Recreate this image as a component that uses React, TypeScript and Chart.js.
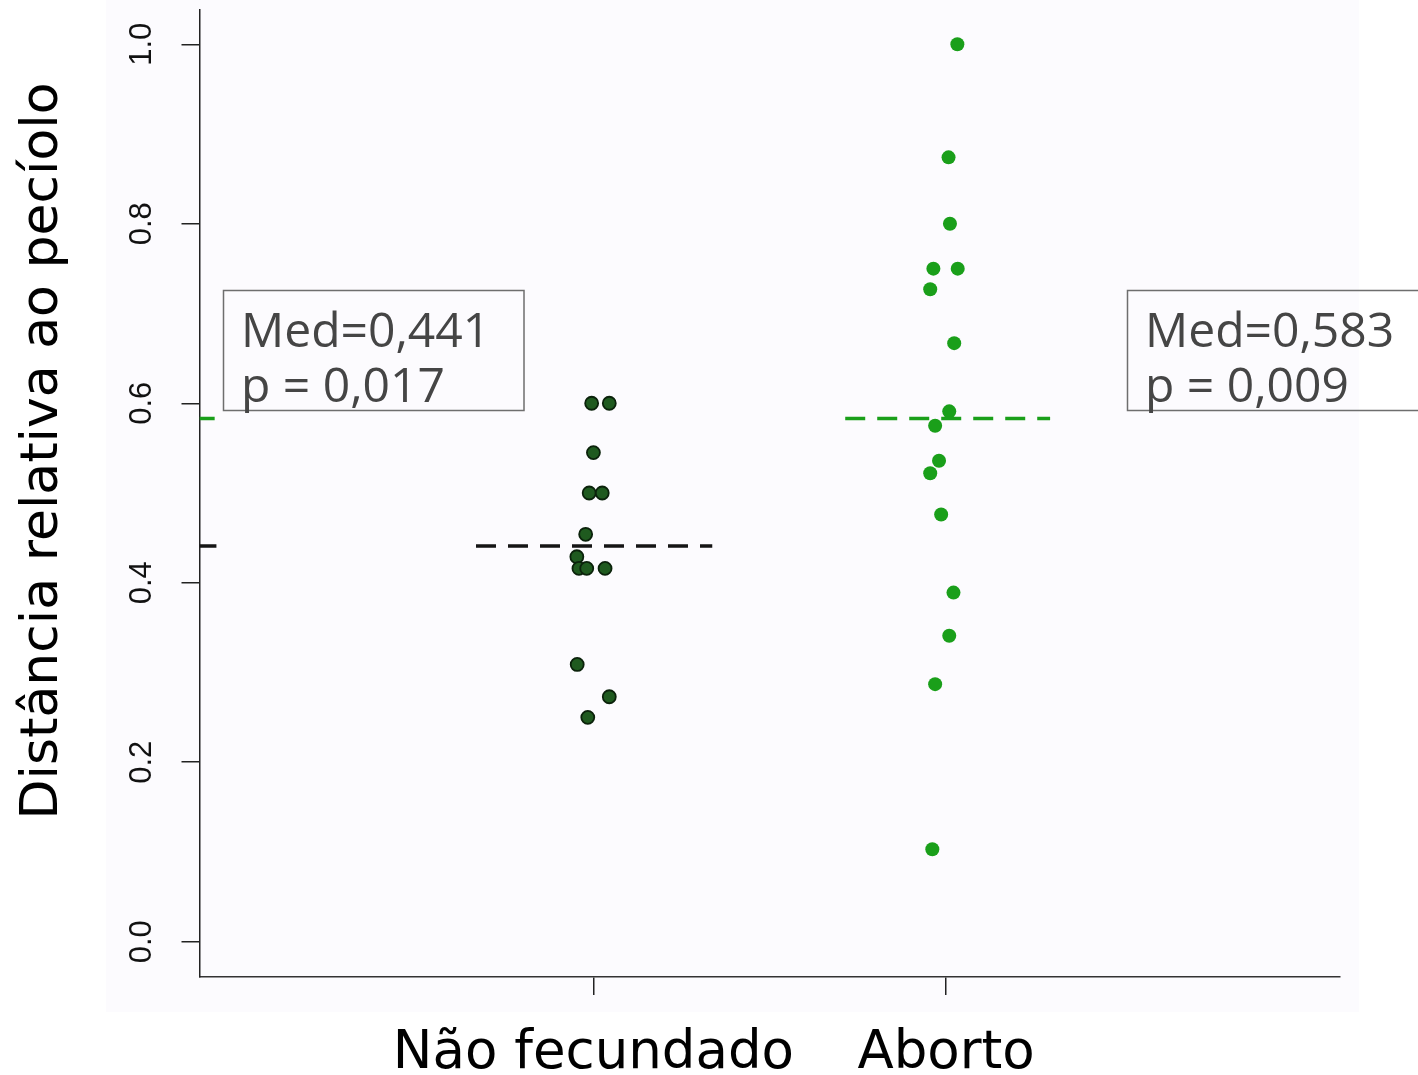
import React, { useEffect, useRef } from "react";
import { Chart, registerables } from "chart.js";

Chart.register(...registerables);

// ---- data ----
const CATEGORIES = ["Não fecundado", "Aborto"];
const CATEGORY_X = [1, 2];
const Y_TICKS = [0, 0.2, 0.4, 0.6, 0.8, 1.0];
const Y_TITLE = "Distância relativa ao pecíolo";

// "Não fecundado" (jittered x around 1)
const NF_X = [0.995, 1.045, 1.0, 0.988, 1.025, 0.978, 0.953, 0.959, 0.981, 1.033, 0.954, 1.045, 0.984];
const NF_Y = [0.6, 0.6, 0.545, 0.5, 0.5, 0.454, 0.429, 0.416, 0.416, 0.416, 0.309, 0.273, 0.25];

// "Aborto" (jittered x around 2)
const AB_X = [2.032, 2.007, 2.011, 1.964, 2.033, 1.955, 2.023, 2.009, 1.969, 1.98, 1.955, 1.986, 2.021, 2.009, 1.969, 1.961];
const AB_Y = [1.0, 0.874, 0.8, 0.75, 0.75, 0.727, 0.667, 0.591, 0.575, 0.536, 0.522, 0.476, 0.389, 0.341, 0.287, 0.103];

const MEDIANS = [0.441, 0.583];
const NF_MEDIAN_X = [0.667, 1.337];
const AB_MEDIAN_X = [1.714, 2.295];
const NF_EDGE_X = [-0.117, -0.069];
const AB_EDGE_X = [-0.117, -0.074];

const BOX_LINE1 = ["Med=0,441", "Med=0,583"];
const BOX_LINE2 = ["p = 0,017", "p = 0,009"];

const X_MIN = -0.117;
const X_MAX = 3.117;
const Y_MIN = -0.0393;
const Y_MAX = 1.0382;

const GREEN = "#1a9f1a";
const DARK_FILL = "#1f5a1f";
const DARK_BORDER = "#0b220b";

const W = 1418;
const H = 1075;

const backgroundPlugin = {
  id: "bgTint",
  beforeDraw(chart: any) {
    const ctx = chart.ctx;
    ctx.save();
    ctx.fillStyle = "#ffffff";
    ctx.fillRect(0, 0, chart.width, chart.height);
    ctx.fillStyle = "#fcfbfe";
    ctx.fillRect(106, 0, 1359 - 106, 1012);
    ctx.restore();
  },
};

const overlayPlugin = {
  id: "overlay",
  afterDraw(chart: any) {
    const ctx = chart.ctx;
    ctx.save();
    // y-axis title
    ctx.translate(57, 451);
    ctx.rotate(-Math.PI / 2);
    ctx.fillStyle = "#000";
    ctx.font = "52px 'DejaVu Sans'";
    ctx.textAlign = "center";
    ctx.textBaseline = "alphabetic";
    ctx.fillText(Y_TITLE, 0, 0);
    ctx.restore();

    // annotation boxes
    const boxes = [
      { x: 223.5, w: 300.5, tx: 241 },
      { x: 1127.5, w: 320, tx: 1145 },
    ];
    boxes.forEach((b, i) => {
      ctx.save();
      ctx.strokeStyle = "#6e6e6e";
      ctx.lineWidth = 1.5;
      ctx.strokeRect(b.x, 290.5, b.w, 120);
      ctx.fillStyle = "#454545";
      ctx.font = "48px 'Open Sans'";
      ctx.textAlign = "left";
      ctx.textBaseline = "alphabetic";
      ctx.fillText(BOX_LINE1[i], b.tx, 347);
      ctx.fillText(BOX_LINE2[i], b.tx, 402);
      ctx.restore();
    });
  },
};

export default function App() {
  const ref = useRef<HTMLCanvasElement | null>(null);

  useEffect(() => {
    if (!ref.current) return;
    const nf = NF_X.map((x, i) => ({ x, y: NF_Y[i] }));
    const ab = AB_X.map((x, i) => ({ x, y: AB_Y[i] }));
    const nfMed = NF_MEDIAN_X.map((x) => ({ x, y: MEDIANS[0] }));
    const abMed = AB_MEDIAN_X.map((x) => ({ x, y: MEDIANS[1] }));
    const nfEdge = NF_EDGE_X.map((x) => ({ x, y: MEDIANS[0] }));
    const abEdge = AB_EDGE_X.map((x) => ({ x, y: MEDIANS[1] }));

    const chart = new Chart(ref.current, {
      type: "scatter",
      data: {
        datasets: [
          {
            label: "Não fecundado mediana",
            data: nfMed,
            showLine: true,
            borderColor: "#151515",
            borderWidth: 3.5,
            borderDash: [20, 12],
            pointRadius: 0,
          },
          {
            label: "Aborto mediana",
            data: abMed,
            showLine: true,
            borderColor: GREEN,
            borderWidth: 3.5,
            borderDash: [20, 12],
            pointRadius: 0,
          },
          {
            label: "nf edge",
            data: nfEdge,
            showLine: true,
            borderColor: "#151515",
            borderWidth: 3.5,
            pointRadius: 0,
          },
          {
            label: "ab edge",
            data: abEdge,
            showLine: true,
            borderColor: GREEN,
            borderWidth: 3.5,
            pointRadius: 0,
          },
          {
            label: CATEGORIES[0],
            data: nf,
            backgroundColor: DARK_FILL,
            borderColor: DARK_BORDER,
            borderWidth: 1.8,
            pointRadius: 6.5,
          },
          {
            label: CATEGORIES[1],
            data: ab,
            backgroundColor: GREEN,
            borderColor: GREEN,
            borderWidth: 0,
            pointRadius: 7,
          },
        ],
      },
      options: {
        responsive: false,
        animation: false,
        devicePixelRatio: 1,
        layout: { padding: { left: 0, right: W - 1340, top: 10, bottom: 0 } },
        plugins: {
          legend: { display: false },
          tooltip: { enabled: false },
        },
        scales: {
          x: {
            type: "linear",
            min: X_MIN,
            max: X_MAX,
            afterBuildTicks: (scale: any) => {
              scale.ticks = CATEGORY_X.map((v) => ({ value: v }));
            },
            afterFit: (scale: any) => {
              scale.height = H - 977;
              scale.paddingLeft = 0;
              scale.paddingRight = 0;
            },
            ticks: {
              autoSkip: false,
              maxRotation: 0,
              minRotation: 0,
              padding: 27,
              color: "#000",
              font: { family: "'DejaVu Sans'", size: 53 },
              callback: (v: any) => {
                const idx = CATEGORY_X.indexOf(Number(v));
                return idx >= 0 ? CATEGORIES[idx] : "";
              },
            },
            grid: {
              drawOnChartArea: false,
              drawTicks: true,
              tickLength: 18,
              tickColor: "#222",
              lineWidth: 1.5,
            },
            border: { display: true, color: "#333", width: 1.5 },
          },
          y: {
            type: "linear",
            min: Y_MIN,
            max: Y_MAX,
            afterBuildTicks: (scale: any) => {
              scale.ticks = Y_TICKS.map((v) => ({ value: v }));
            },
            afterFit: (scale: any) => {
              scale.width = 199.5;
              scale.paddingTop = 0;
              scale.paddingBottom = 0;
            },
            ticks: {
              minRotation: 90,
              maxRotation: 90,
              crossAlign: "center",
              padding: 17,
              color: "#111",
              font: { family: "'Liberation Sans'", size: 31 },
              callback: (v: any) => Number(v).toFixed(1),
            },
            grid: {
              drawOnChartArea: false,
              drawTicks: true,
              tickLength: 18,
              tickColor: "#222",
              lineWidth: 1.5,
            },
            border: { display: true, color: "#222", width: 1.5 },
          },
        },
      },
      plugins: [backgroundPlugin, overlayPlugin],
    } as any);

    return () => chart.destroy();
  }, []);

  return (
    <div style={{ position: "fixed", left: 0, top: 0, width: W, height: H, background: "#fff" }}>
      <canvas ref={ref} width={W} height={H} style={{ width: W, height: H, display: "block" }} />
    </div>
  );
}
